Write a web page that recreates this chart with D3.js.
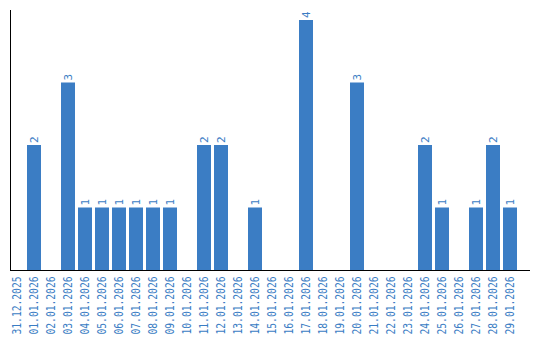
<!DOCTYPE html>
<html><head><meta charset="utf-8">
<script src="https://cdn.jsdelivr.net/npm/d3@7"></script>
<style>body{margin:0;background:#fff}svg{display:block}</style>
</head><body>
<script>
const categories = ["31.12.2025","01.01.2026","02.01.2026","03.01.2026","04.01.2026","05.01.2026","06.01.2026","07.01.2026","08.01.2026","09.01.2026","10.01.2026","11.01.2026","12.01.2026","13.01.2026","14.01.2026","15.01.2026","16.01.2026","17.01.2026","18.01.2026","19.01.2026","20.01.2026","21.01.2026","22.01.2026","23.01.2026","24.01.2026","25.01.2026","26.01.2026","27.01.2026","28.01.2026","29.01.2026"];
const values = [0,2,0,3,1,1,1,1,1,1,0,2,2,0,1,0,0,4,0,0,3,0,0,0,2,1,0,1,2,1];

const W = 540, H = 340;
const color = "#3b7dc4";
const font = "'DejaVu Sans Mono', monospace";
const svg = d3.select("body").append("svg").attr("width", W).attr("height", H);

const x = d3.scaleBand().domain(categories).range([10, 517]).paddingInner(3/17).paddingOuter(0).align(0);
const y = d3.scaleLinear().domain([0, 4]).range([270, 20]);
const data = categories.map((c, i) => ({c, v: values[i]}));

svg.selectAll("rect.bar").data(data.filter(d => d.v > 0)).join("rect")
  .attr("class", "bar")
  .attr("x", d => x(d.c)).attr("width", x.bandwidth())
  .attr("y", d => y(d.v)).attr("height", d => y(0) - y(d.v))
  .attr("fill", color);

svg.selectAll("text.val").data(data.filter(d => d.v > 0)).join("text")
  .attr("class", "val")
  .attr("transform", d => `translate(${x(d.c) + x.bandwidth()/2 + 4},${y(d.v) - 2}) rotate(-90)`)
  .attr("text-anchor", "start")
  .attr("font-family", font).attr("font-size", 11)
  .attr("fill", color)
  .text(d => d.v);

// axes lines
svg.append("line").attr("x1", 10.5).attr("x2", 10.5).attr("y1", 10).attr("y2", 270).attr("stroke", "#000");
svg.append("line").attr("x1", 10).attr("x2", 530).attr("y1", 270.5).attr("y2", 270.5).attr("stroke", "#000");

const xAxis = svg.append("g").attr("transform", "translate(0,270)")
  .call(d3.axisBottom(x).tickSize(0).tickPadding(0));
xAxis.select(".domain").remove();
xAxis.selectAll("text")
  .attr("font-family", font).attr("font-size", 11.5).attr("fill", color)
  .attr("text-anchor", "end")
  .attr("dy", null).attr("y", 0)
  .attr("textLength", 58).attr("lengthAdjust", "spacingAndGlyphs")
  .attr("transform", "translate(4,6.5) rotate(-90)");
</script>
</body></html>
